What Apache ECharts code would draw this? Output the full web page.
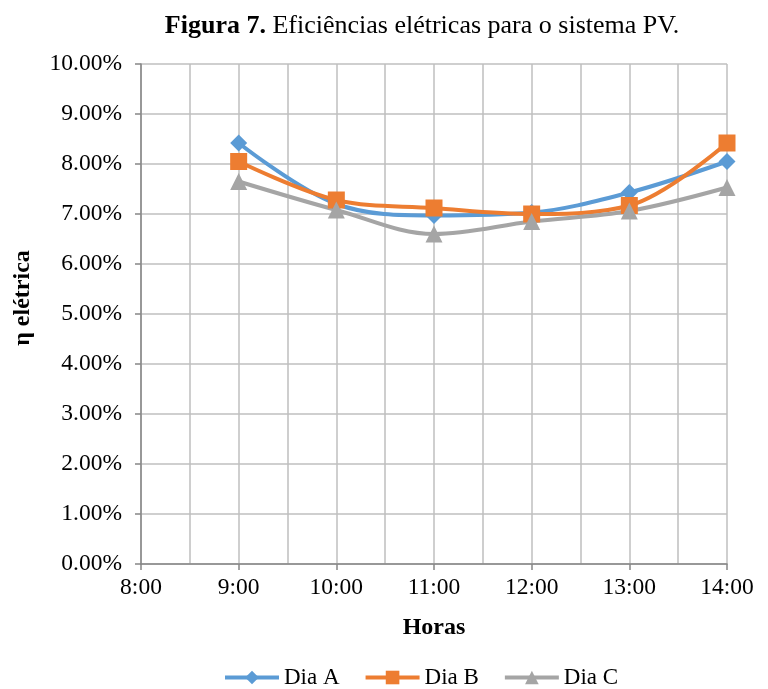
<!DOCTYPE html>
<html>
<head>
<meta charset="utf-8">
<script src="https://cdn.jsdelivr.net/npm/echarts@6/dist/echarts.min.js"></script>
<style>html,body{margin:0;padding:0;background:#fff;}#c{width:768px;height:689px;}</style>
</head>
<body>
<div id="c"></div>
<script>
const hours = [9, 10, 11, 12, 13, 14];
const diaA = [8.42, 7.20, 6.97, 7.03, 7.43, 8.05];
const diaB = [8.05, 7.28, 7.12, 7.00, 7.17, 8.42];
const diaC = [7.65, 7.08, 6.60, 6.85, 7.06, 7.53];
const seriesNames = ['Dia A', 'Dia B', 'Dia C'];
const xTickLabels = ['8:00','9:00','10:00','11:00','12:00','13:00','14:00'];

const font = 'Liberation Serif';
const pair = arr => hours.map((h, i) => [h, arr[i]]);

const chart = echarts.init(document.getElementById('c'));
const mk = (name, data, color, symbol, size) => ({
  name, type: 'line', data: pair(data), smooth: 0.35,
  symbol, symbolSize: size,
  lineStyle: { color, width: 4 },
  itemStyle: { color },
  emphasis: { disabled: true }
});
chart.setOption({
  animation: false,
  title: {
    text: '{b|Figura 7.} Eficiências elétricas para o sistema PV.',
    left: 417, top: 8, textAlign: 'center',
    textStyle: {
      fontFamily: font, fontSize: 26, color: '#000', fontWeight: 'normal',
      rich: { b: { fontFamily: font, fontSize: 26, fontWeight: 'bold', color: '#000' } }
    }
  },
  grid: { left: 141, right: 41, top: 64, bottom: 125, containLabel: false },
  xAxis: {
    type: 'value', min: 8, max: 14, interval: 1,
    name: 'Horas', nameLocation: 'middle', nameGap: 52,
    nameTextStyle: { fontFamily: font, fontSize: 24, fontWeight: 'bold', color: '#000' },
    axisLine: { show: true, lineStyle: { color: '#868686', width: 1.5 } },
    axisTick: { show: true, length: 6, lineStyle: { color: '#868686', width: 1.5 } },
    axisLabel: {
      fontFamily: font, fontSize: 23.5, color: '#000', margin: 12,
      formatter: v => xTickLabels[Math.round(v - 8)]
    },
    splitLine: { show: true, lineStyle: { color: '#bfbfbf', width: 1.5 } },
    minorTick: { show: false, splitNumber: 2 },
    minorSplitLine: { show: true, lineStyle: { color: '#bfbfbf', width: 1.5 } }
  },
  yAxis: {
    type: 'value', min: 0, max: 10, interval: 1,
    name: 'η elétrica', nameLocation: 'middle', nameGap: 106, nameRotate: 90,
    nameTextStyle: { fontFamily: font, fontSize: 24, fontWeight: 'bold', color: '#000', padding: [0, 0, 0, 32] },
    axisLine: { show: true, lineStyle: { color: '#868686', width: 1.5 } },
    axisTick: { show: true, length: 6, lineStyle: { color: '#868686', width: 1.5 } },
    axisLabel: {
      fontFamily: font, fontSize: 23.5, color: '#000', margin: 19,
      formatter: v => v.toFixed(2) + '%'
    },
    splitLine: { show: true, lineStyle: { color: '#bfbfbf', width: 1.5 } }
  },
  legend: {
    bottom: -5, left: 218, itemWidth: 54, itemHeight: 17, itemGap: 24,
    textStyle: { fontFamily: font, fontSize: 23, color: '#000' },
    lineStyle: { width: 4 },
    data: seriesNames
  },
  series: [
    mk(seriesNames[0], diaA, '#5B9BD5', 'diamond', 17),
    mk(seriesNames[1], diaB, '#ED7D31', 'rect', 17),
    mk(seriesNames[2], diaC, '#A5A5A5', 'triangle', 17)
  ]
});
</script>
</body>
</html>
